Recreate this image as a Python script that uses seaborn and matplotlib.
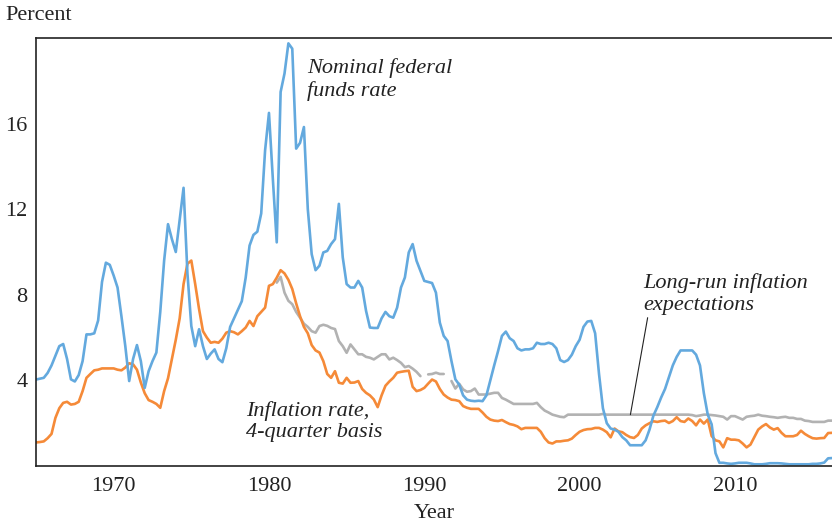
import numpy as np
import pandas as pd
import matplotlib
matplotlib.use("Agg")
import matplotlib.pyplot as plt
import seaborn as sns

# quarterly, 1965Q1 .. 2016Q2
quarters = np.arange(1965, 2016.3, 0.25)

fed_funds = [
    4.04, 4.08, 4.12, 4.35,   # 1965
    4.70, 5.15, 5.60, 5.70,   # 1966
    5.00, 4.05, 3.95, 4.25,   # 1967
    4.90, 6.15, 6.15, 6.20,   # 1968
    6.80, 8.60, 9.50, 9.40,   # 1969
    8.90, 8.34, 7.00, 5.60,   # 1970
    3.97, 5.00, 5.65, 4.90,   # 1971
    3.65, 4.43, 4.90, 5.30,   # 1972
    7.20, 9.60, 11.30, 10.60, # 1973
    10.00, 11.50, 13.00, 9.00, # 1974
    6.54, 5.60, 6.39, 5.60,   # 1975
    5.00, 5.25, 5.45, 5.00,   # 1976
    4.85, 5.50, 6.50, 6.90,   # 1977
    7.30, 7.70, 8.80, 10.30,  # 1978
    10.80, 10.95, 11.80, 14.75, # 1979
    16.50, 13.40, 10.45, 17.48, # 1980
    18.34, 19.75, 19.50, 14.83, # 1981
    15.10, 15.84, 12.00, 9.90, # 1982
    9.15, 9.36, 9.98, 10.05,  # 1983
    10.37, 10.60, 12.25, 9.75, # 1984
    8.50, 8.34, 8.34, 8.65,   # 1985
    8.34, 7.25, 6.47, 6.45,   # 1986
    6.45, 6.90, 7.20, 7.00,   # 1987
    6.93, 7.40, 8.34, 8.81,   # 1988
    9.98, 10.37, 9.59, 9.12,  # 1989
    8.65, 8.60, 8.55, 8.10,   # 1990
    6.70, 6.08, 5.84, 4.90,   # 1991
    4.05, 3.80, 3.30, 3.10,   # 1992
    3.05, 3.03, 3.05, 3.03,   # 1993
    3.30, 4.00, 4.70, 5.37,   # 1994
    6.08, 6.28, 5.97, 5.84,   # 1995
    5.50, 5.40, 5.45, 5.45,   # 1996
    5.50, 5.76, 5.70, 5.70,   # 1997
    5.76, 5.70, 5.50, 4.95,   # 1998
    4.86, 4.95, 5.20, 5.60,   # 1999
    5.90, 6.50, 6.75, 6.78,   # 2000
    6.20, 4.30, 2.70, 2.00,   # 2001
    1.75, 1.70, 1.60, 1.35,   # 2002
    1.20, 0.97, 0.97, 0.97,   # 2003
    0.97, 1.20, 1.70, 2.35,   # 2004
    2.75, 3.20, 3.60, 4.15,   # 2005
    4.70, 5.10, 5.40, 5.40,   # 2006
    5.40, 5.40, 5.20, 4.70,   # 2007
    3.40, 2.40, 1.95, 0.60,   # 2008
    0.15, 0.15, 0.12, 0.10,   # 2009
    0.12, 0.15, 0.15, 0.15,   # 2010
    0.12, 0.08, 0.08, 0.08,   # 2011
    0.10, 0.13, 0.13, 0.13,   # 2012
    0.12, 0.10, 0.08, 0.08,   # 2013
    0.08, 0.08, 0.08, 0.08,   # 2014
    0.10, 0.10, 0.12, 0.16,   # 2015
    0.36, 0.37,               # 2016
]

inflation = [
    1.10, 1.12, 1.15, 1.30,   # 1965
    1.50, 2.25, 2.70, 2.95,   # 1966
    3.00, 2.87, 2.90, 3.00,   # 1967
    3.50, 4.12, 4.30, 4.47,   # 1968
    4.50, 4.56, 4.56, 4.56,   # 1969
    4.56, 4.50, 4.47, 4.60,   # 1970
    4.80, 4.75, 4.50, 3.90,   # 1971
    3.40, 3.08, 3.00, 2.90,   # 1972
    2.72, 3.50, 4.10, 5.00,   # 1973
    5.90, 6.90, 8.50, 9.45,   # 1974
    9.60, 8.50, 7.33, 6.30,   # 1975
    6.00, 5.76, 5.80, 5.76,   # 1976
    5.95, 6.23, 6.30, 6.25,   # 1977
    6.15, 6.30, 6.47, 6.78,   # 1978
    6.54, 7.00, 7.20, 7.40,   # 1979
    8.42, 8.50, 8.80, 9.15,   # 1980
    9.00, 8.70, 8.27, 7.60,   # 1981
    7.00, 6.50, 6.20, 5.65,   # 1982
    5.40, 5.30, 4.90, 4.30,   # 1983
    4.12, 4.43, 3.89, 3.85,   # 1984
    4.12, 3.89, 3.90, 3.97,   # 1985
    3.60, 3.42, 3.30, 3.11,   # 1986
    2.75, 3.30, 3.75, 3.95,   # 1987
    4.12, 4.36, 4.40, 4.43,   # 1988
    4.45, 3.70, 3.50, 3.55,   # 1989
    3.65, 3.85, 4.04, 3.95,   # 1990
    3.60, 3.34, 3.20, 3.10,   # 1991
    3.08, 3.03, 2.80, 2.72,   # 1992
    2.67, 2.67, 2.67, 2.50,   # 1993
    2.30, 2.17, 2.12, 2.10,   # 1994
    2.15, 2.05, 1.96, 1.92,   # 1995
    1.85, 1.72, 1.78, 1.78,   # 1996
    1.78, 1.78, 1.60, 1.30,   # 1997
    1.10, 1.05, 1.15, 1.15,   # 1998
    1.18, 1.20, 1.28, 1.45,   # 1999
    1.60, 1.68, 1.72, 1.73,   # 2000
    1.78, 1.78, 1.70, 1.58,   # 2001
    1.34, 1.75, 1.62, 1.58,   # 2002
    1.45, 1.35, 1.31, 1.45,   # 2003
    1.75, 1.90, 2.00, 2.09,   # 2004
    2.06, 2.10, 2.12, 2.01,   # 2005
    2.10, 2.28, 2.10, 2.06,   # 2006
    2.22, 2.10, 1.90, 2.17,   # 2007
    1.98, 2.17, 1.40, 1.20,   # 2008
    1.15, 0.87, 1.30, 1.23,   # 2009
    1.23, 1.20, 1.05, 0.87,   # 2010
    1.00, 1.35, 1.70, 1.85,   # 2011
    1.96, 1.80, 1.70, 1.77,   # 2012
    1.55, 1.39, 1.39, 1.39,   # 2013
    1.45, 1.65, 1.50, 1.39,   # 2014
    1.30, 1.28, 1.30, 1.31,   # 2015
    1.54, 1.55,               # 2016
]

nan = np.nan
expectations = [
    nan, nan, nan, nan,       # 1965
    nan, nan, nan, nan,       # 1966
    nan, nan, nan, nan,       # 1967
    nan, nan, nan, nan,       # 1968
    nan, nan, nan, nan,       # 1969
    nan, nan, nan, nan,       # 1970
    nan, nan, nan, nan,       # 1971
    nan, nan, nan, nan,       # 1972
    nan, nan, nan, nan,       # 1973
    nan, nan, nan, nan,       # 1974
    nan, nan, nan, nan,       # 1975
    nan, nan, nan, nan,       # 1976
    nan, nan, nan, nan,       # 1977
    nan, nan, nan, nan,       # 1978
    nan, nan, nan, nan,       # 1979
    nan, nan, 8.57, 8.84,     # 1980
    8.10, 7.72, 7.56, 7.20,   # 1981
    6.93, 6.65, 6.50, 6.30,   # 1982
    6.23, 6.54, 6.60, 6.55,   # 1983
    6.45, 6.40, 5.84, 5.60,   # 1984
    5.29, 5.68, 5.45, 5.22,   # 1985
    5.22, 5.10, 5.06, 4.98,   # 1986
    5.10, 5.22, 5.22, 4.98,   # 1987
    5.06, 4.95, 4.82, 4.62,   # 1988
    4.67, 4.55, 4.40, 4.20,   # 1989
    nan, 4.28, 4.30, 4.36,    # 1990
    4.30, 4.30, nan, 3.97,    # 1991
    3.62, 3.84, 3.58, 3.47,   # 1992
    3.50, 3.62, 3.34, 3.34,   # 1993
    3.34, 3.38, 3.42, 3.42,   # 1994
    3.18, 3.10, 3.00, 2.90,   # 1995
    2.90, 2.90, 2.90, 2.90,   # 1996
    2.90, 2.95, 2.75, 2.59,   # 1997
    2.50, 2.40, 2.35, 2.30,   # 1998
    2.28, 2.40, 2.40, 2.40,   # 1999
    2.40, 2.40, 2.40, 2.40,   # 2000
    2.40, 2.40, 2.43, 2.40,   # 2001
    2.40, 2.40, 2.40, 2.40,   # 2002
    2.40, 2.40, 2.40, 2.40,   # 2003
    2.40, 2.40, 2.40, 2.40,   # 2004
    2.40, 2.40, 2.40, 2.40,   # 2005
    2.40, 2.40, 2.40, 2.40,   # 2006
    2.40, 2.38, 2.33, 2.36,   # 2007
    2.40, 2.40, 2.38, 2.36,   # 2008
    2.33, 2.30, 2.17, 2.33,   # 2009
    2.33, 2.25, 2.17, 2.30,   # 2010
    2.33, 2.35, 2.40, 2.35,   # 2011
    2.33, 2.30, 2.28, 2.25,   # 2012
    2.28, 2.30, 2.25, 2.25,   # 2013
    2.20, 2.20, 2.12, 2.10,   # 2014
    2.06, 2.06, 2.06, 2.06,   # 2015
    2.12, 2.12,               # 2016
]

BLUE = '#63a9de'
ORANGE = '#f58a38'
GREY = '#b2b2b2'

sns.set_style('white')
plt.rcParams['font.family'] = ['Liberation Serif', 'DejaVu Serif']

df = pd.DataFrame({'year': quarters, 'ffr': fed_funds,
                   'infl': inflation, 'exp': expectations})
# gaps in the expectations series -> separate segments
df['seg'] = df['exp'].isna().cumsum()
exp_df = df.dropna(subset=['exp'])

fig = plt.figure(figsize=(8.32, 5.25), dpi=100)
ax = fig.add_axes([36 / 832, 1 - 466 / 525, 1 - 36 / 832, (466 - 38) / 525])

sns.lineplot(data=exp_df, x='year', y='exp', units='seg', estimator=None,
             color=GREY, linewidth=1.9, ax=ax)
sns.lineplot(data=df, x='year', y='infl', color=ORANGE, linewidth=1.9, ax=ax)
sns.lineplot(data=df, x='year', y='ffr', color=BLUE, linewidth=1.9, ax=ax)

ax.set_xlim(1965, 2016.25)
ax.set_ylim(0, 20)
ax.set_xticks([1970, 1980, 1990, 2000, 2010])
ax.set_yticks([4, 8, 12, 16])
ax.tick_params(direction='in', length=6, width=1.1, colors='#222222',
               labelsize=16, pad=6)
ax.tick_params(axis='x', pad=8)
for s in ['left', 'top', 'bottom']:
    ax.spines[s].set_color('#222222')
    ax.spines[s].set_linewidth(1.2)
ax.spines['right'].set_visible(False)

ax.set_xlabel('Year', fontsize=16, color='#222222', labelpad=6)
ax.set_ylabel('')
fig.text(5 / 832, 1 - 15 / 525, 'Percent', fontsize=16, color='#222222',
         ha='left', va='center')

ax.text(1982.45, 19.05, 'Nominal federal\nfunds rate', style='italic',
        fontsize=16, color='#222222', ha='left', va='top', linespacing=1.2)
ax.text(1978.55, 3.05, 'Inflation rate,\n4-quarter basis', style='italic',
        fontsize=16, color='#222222', ha='left', va='top', linespacing=1.2)
ax.text(2004.1, 9.0, 'Long-run inflation\nexpectations', style='italic',
        fontsize=16, color='#222222', ha='left', va='top', linespacing=1.2)
ax.plot([2004.38, 2003.27], [6.93, 2.4], color='#222222', linewidth=0.8)

fig.savefig('out.png', dpi=100)
